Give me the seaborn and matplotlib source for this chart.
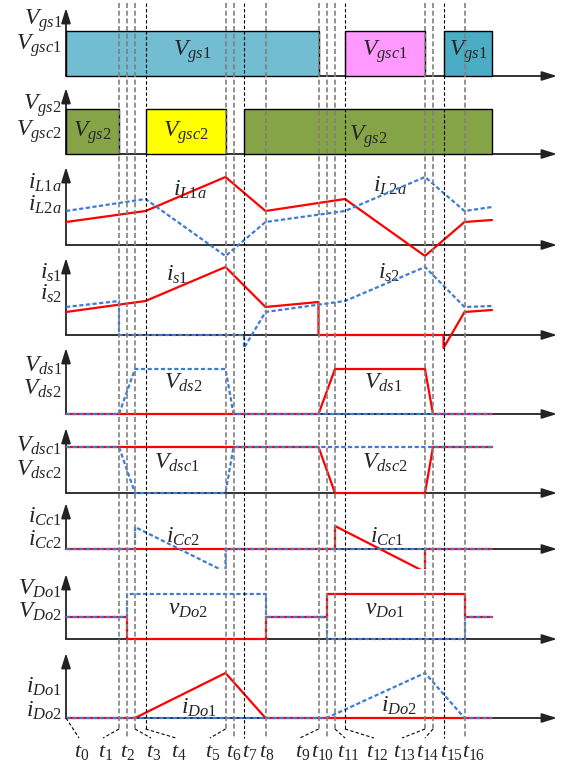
import matplotlib
matplotlib.use("Agg")
import matplotlib.pyplot as plt
import numpy as np
import seaborn as sns

# ---------------------------------------------------------------------------
# Data: switching instants t0..t16 (time units) and end of the traces
# ---------------------------------------------------------------------------
T = [0, 53, 61, 69, 79.5, 159.5, 167.5, 178, 199.5, 252.5, 260.5,
     269, 279, 359, 367, 377.5, 398.5]
T_END = 426
T_LABELS = [f"$t_{{{i}}}$" for i in range(17)]

# gate signals (boxes): start, end
GS1_START = [T[0], T[12], T[15]]
GS1_END = [T[9], T[13], T_END]
GS1_NAMES = ["$V_{gs1}$", "$V_{gsc1}$", "$V_{gs1}$"]
GS2_START = [T[0], T[4], T[7]]
GS2_END = [T[1], T[5], T_END]
GS2_NAMES = ["$V_{gs2}$", "$V_{gsc2}$", "$V_{gs2}$"]
GATE_LEVEL = 45

# inductor currents
IL_T = [T[0], T[4], T[5], T[8], T[12], T[13], T[16], T_END]
IL1A = [23, 34, 68, 34, 46, -11, 23, 25]
IL2A = [34, 46, -11, 23, 34, 68, 34, 38]

# switch currents
IS1_T = [T[0], T[4], T[5], T[8], T[9], T[9], T[15], T[15], T[16], T_END]
IS1 = [23, 34, 68, 28, 33, 0, 0, -13, 23, 25]
IS2_T = [T[0], T[1], T[1], T[7], T[7], T[8], T[12], T[13], T[16], T_END]
IS2 = [28, 34, 0, 0, -13, 23, 34, 68, 28, 29]

# switch voltages
VDS2_T = [T[0], T[1], T[3], T[5], T[6], T_END]
VDS2 = [0, 0, 45, 45, 0, 0]
VDS1_T = [T[0], T[9], T[11], T[13], T[14], T_END]
VDS1 = [0, 0, 45, 45, 0, 0]

# clamp switch voltages
VDSC1_T = [T[0], T[9], T[11], T[13], T[14], T_END]
VDSC1 = [46, 46, 0, 0, 46, 46]
VDSC2_T = [T[0], T[1], T[3], T[5], T[6], T_END]
VDSC2 = [46, 46, 0, 0, 46, 46]

# clamp capacitor currents
ICC2_T = [T[0], T[3], T[3], T[5], T[5], T_END]
ICC2 = [0, 0, 22, -23, 0, 0]
ICC1_T = [T[0], T[11], T[11], T[13], T[13], T_END]
ICC1 = [0, 0, 23, -23, 0, 0]

# output diode voltages
VDO_T = [T[0], T[2], T[2], T[8], T[8], T[10], T[10], T[16], T[16], T_END]
VDO1 = [22, 22, 0, 0, 22, 22, 45, 45, 22, 22]
VDO2 = [22, 22, 45, 45, 22, 22, 0, 0, 22, 22]

# output diode currents
IDO1_T = [T[0], T[3], T[5], T[8], T_END]
IDO1 = [0, 0, 45, 0, 0]
IDO2_T = [T[0], T[10], T[13], T[16], T_END]
IDO2 = [0, 0, 45, 0, 0]

# ---------------------------------------------------------------------------
# Style
# ---------------------------------------------------------------------------
sns.set_theme(style="white")
plt.rcParams.update({
    "font.family": ["Liberation Serif", "DejaVu Serif"],
    "mathtext.fontset": "custom",
    "mathtext.rm": "Liberation Serif",
    "mathtext.it": "Liberation Serif:italic",
    "mathtext.bf": "Liberation Serif:bold",
})

RED = "#FF0000"
BLUE = "#3D7CD4"
AXC = "#222222"
FS = 17
W, H = 564, 767
X0 = 66          # pixel column of the time origin

fig = plt.figure(figsize=(W / 100, H / 100), dpi=100)
fig.patch.set_facecolor("white")


def panel(base, tip):
    ax = fig.add_axes([0, 1 - (base + 20) / H, 1, 105 / H])
    ax.set_xlim(-X0, W - X0)
    ax.set_ylim(-20, 85)
    ax.axis("off")
    ax.patch.set_alpha(0)
    arr = dict(arrowstyle="-|>,head_length=0.9,head_width=0.28", color=AXC,
               lw=1.3, shrinkA=0, shrinkB=0, mutation_scale=10)
    ax.annotate("", xy=(491, 0), xytext=(0, 0), arrowprops=arr, zorder=1)
    ax.annotate("", xy=(0, tip), xytext=(0, 0), arrowprops=arr, zorder=1)
    return ax


def trace(ax, t, v, blue=False):
    if blue:
        sns.lineplot(x=np.array(t, float), y=np.array(v, float), ax=ax,
                     color=BLUE, lw=1.6, linestyle=(0, (1.9, 1.1)),
                     estimator=None, sort=False, zorder=4)
    else:
        sns.lineplot(x=np.array(t, float), y=np.array(v, float), ax=ax,
                     color=RED, lw=1.6, estimator=None, sort=False, zorder=3)


def left_labels(ax, top, bottom, y_top, y_bot):
    ax.text(-4, y_top, top, ha="right", va="center", fontsize=FS)
    ax.text(-4, y_bot, bottom, ha="right", va="center", fontsize=FS)


def boxes(ax, starts, ends, colors, names, label_y):
    widths = np.array(ends) - np.array(starts)
    ax.bar(starts, [GATE_LEVEL] * len(starts), width=widths, align="edge",
           color=colors, edgecolor="black", linewidth=1.0, zorder=2)
    for s, w_, n, ly in zip(starts, widths, names, label_y):
        ax.text(s + w_ / 2, ly, n, ha="center", va="center", fontsize=FS, zorder=5)


# ── Vgs1 / Vgsc1 ──────────────────────────────────────────────────────────
ax = panel(76, 68)
boxes(ax, GS1_START, GS1_END, ["#72BDD2", "#FF99FF", "#4BACC6"], GS1_NAMES,
      [24, 24, 24])
left_labels(ax, "$V_{gs1}$", "$V_{gsc1}$", 55, 30)

# ── Vgs2 / Vgsc2 ──────────────────────────────────────────────────────────
ax = panel(154, 66)
boxes(ax, GS2_START, GS2_END, ["#85A347", "#FFFF00", "#85A347"], GS2_NAMES,
      [21, 21, 17])
left_labels(ax, "$V_{gs2}$", "$V_{gsc2}$", 48, 22)

# ── iL1a / iL2a ───────────────────────────────────────────────────────────
ax = panel(245, 78)
trace(ax, IL_T, IL1A)
trace(ax, IL_T, IL2A, blue=True)
ax.text(124, 55, "$i_{L1a}$", ha="center", va="center", fontsize=FS)
ax.text(324, 59, "$i_{L2a}$", ha="center", va="center", fontsize=FS)
left_labels(ax, "$i_{L1a}$", "$i_{L2a}$", 62, 40)

# ── is1 / is2 ─────────────────────────────────────────────────────────────
ax = panel(335, 77)
trace(ax, IS1_T, IS1)
trace(ax, IS2_T, IS2, blue=True)
ax.text(111, 60, "$i_{s1}$", ha="center", va="center", fontsize=FS)
ax.text(323, 62, "$i_{s2}$", ha="center", va="center", fontsize=FS)
left_labels(ax, "$i_{s1}$", "$i_{s2}$", 62, 41)

# ── Vds1 / Vds2 ───────────────────────────────────────────────────────────
ax = panel(414, 66)
trace(ax, VDS1_T, VDS1)
trace(ax, VDS2_T, VDS2, blue=True)
ax.text(117, 31, "$V_{ds2}$", ha="center", va="center", fontsize=FS)
ax.text(317, 31, "$V_{ds1}$", ha="center", va="center", fontsize=FS)
left_labels(ax, "$V_{ds1}$", "$V_{ds2}$", 48, 25)

# ── Vdsc1 / Vdsc2 ─────────────────────────────────────────────────────────
ax = panel(493, 65)
trace(ax, VDSC1_T, VDSC1)
trace(ax, VDSC2_T, VDSC2, blue=True)
ax.text(111, 30, "$V_{dsc1}$", ha="center", va="center", fontsize=FS)
ax.text(319, 30, "$V_{dsc2}$", ha="center", va="center", fontsize=FS)
left_labels(ax, "$V_{dsc1}$", "$V_{dsc2}$", 47, 23)

# ── iCc1 / iCc2 ───────────────────────────────────────────────────────────
ax = panel(549, 46)
trace(ax, ICC1_T, ICC1)
trace(ax, ICC2_T, ICC2, blue=True)
ax.text(117, 12, "$i_{Cc2}$", ha="center", va="center", fontsize=FS)
ax.text(321, 12, "$i_{Cc1}$", ha="center", va="center", fontsize=FS)
left_labels(ax, "$i_{Cc1}$", "$i_{Cc2}$", 32, 9)

# ── VDo1 / VDo2 ───────────────────────────────────────────────────────────
ax = panel(639, 65)
trace(ax, VDO_T, VDO1)
trace(ax, VDO_T, VDO2, blue=True)
ax.text(122, 29, "$v_{Do2}$", ha="center", va="center", fontsize=FS)
ax.text(319, 29, "$v_{Do1}$", ha="center", va="center", fontsize=FS)
left_labels(ax, "$V_{Do1}$", "$V_{Do2}$", 50, 27)

# ── iDo1 / iDo2 ───────────────────────────────────────────────────────────
ax = panel(718, 65)
trace(ax, IDO1_T, IDO1)
trace(ax, IDO2_T, IDO2, blue=True)
ax.text(133, 10, "$i_{Do1}$", ha="center", va="center", fontsize=FS)
ax.text(333, 12, "$i_{Do2}$", ha="center", va="center", fontsize=FS)
left_labels(ax, "$i_{Do1}$", "$i_{Do2}$", 31, 7)

# ---------------------------------------------------------------------------
# Overlay: dashed time markers, leaders and t labels
# ---------------------------------------------------------------------------
ov = fig.add_axes([0, 0, 1, 1])
ov.set_xlim(-X0, W - X0)
ov.set_ylim(H, 0)
ov.axis("off")
ov.patch.set_alpha(0)

LABEL_X = [16, 40, 62, 88, 113, 147, 167.5, 184, 201, 237, 257,
           282, 311, 339, 362, 386, 408]
STRAIGHT = {2, 6, 7, 8, 10, 15, 16}
BLACK = {4, 7, 12, 15}

for i in range(1, 17):
    if i in BLACK:
        kw = dict(color="black", lw=0.8, ls=(0, (3, 2)))
    else:
        kw = dict(color="#808080", lw=1.2, ls=(0, (3, 1.6)))
    if i in STRAIGHT:
        ov.plot([T[i], T[i]], [3, 738], zorder=6, **kw)
    else:
        ov.plot([T[i], T[i]], [3, 729], zorder=6, **kw)
        ov.plot([T[i], LABEL_X[i] - 3], [729, 738], color="black", lw=0.8,
                ls=(0, (3, 2)), zorder=6)
ov.plot([0, LABEL_X[0] - 3], [718, 738], color="black", lw=0.8,
        ls=(0, (3, 2)), zorder=6)

for i in range(17):
    ov.text(LABEL_X[i], 752, T_LABELS[i], ha="center", va="center", fontsize=16)

fig.savefig("out.png", dpi=100, facecolor="white")
plt.close(fig)
